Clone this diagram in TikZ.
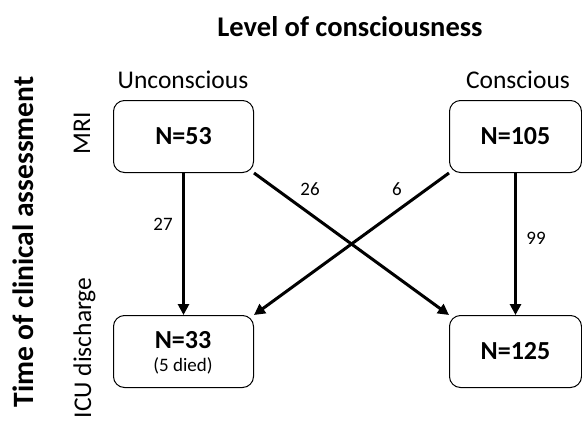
\documentclass[tikz,border=0pt]{standalone}
\usepackage{fontspec}
\setmainfont{Carlito}
\usetikzlibrary{arrows.meta}
\begin{document}
\begin{tikzpicture}[x=1pt,y=-1pt,
  box/.style={draw,line width=1pt,rounded corners=11pt,minimum width=140pt,minimum height=72pt,inner sep=0pt,anchor=north west},
  flow/.style={line width=3pt,-{Triangle[length=11pt,width=11pt]}},
  lab/.style={font=\fontsize{25.5}{30}\selectfont},
  head/.style={font=\fontsize{28.5}{34}\selectfont\bfseries},
  cnt/.style={font=\fontsize{26}{30}\selectfont\bfseries},
  num/.style={font=\fontsize{19}{22}\selectfont}]
\useasboundingbox (0,0) rectangle (582,421);
\node[head] (title) at (350,27) {Level of consciousness};
\node[lab] (uc) at (183,80) {Unconscious};
\node[lab] (co) at (518,80) {Conscious};
\node[head,font=\fontsize{29.5}{34}\selectfont\bfseries,rotate=90,anchor=base] (time) at (33,242) {Time of clinical assessment};
\node[lab,rotate=90,anchor=base] (mri) at (90,133) {MRI};
\node[lab,rotate=90,anchor=base] (icu) at (91,348) {ICU discharge};
\node[box] (a) at (113,100) {};
\node[box,minimum width=132pt] (b) at (449,100) {};
\node[box] (c) at (113,315) {};
\node[box,minimum width=132pt] (d) at (449,315) {};
\node[cnt] at (a.center) {N=53};
\node[cnt] at (b.center) {N=105};
\node[cnt] (c1) at (183,340) {N=33};
\node[num] (c2) at (183,366) {(5 died)};
\node[cnt] at (d.center) {N=125};
\draw[flow] (a.south) -- (c.north);
\draw[flow] (b.south) -- (d.north);
\draw[flow] (a.south east) -- (d.north west);
\draw[flow] (b.south west) -- (c.north east);
\node[num] (l27) at (163,224) {27};
\node[num] (l26) at (310,189) {26};
\node[num] (l6) at (397,189) {6};
\node[num] (l99) at (536,238) {99};
\end{tikzpicture}
\end{document}
